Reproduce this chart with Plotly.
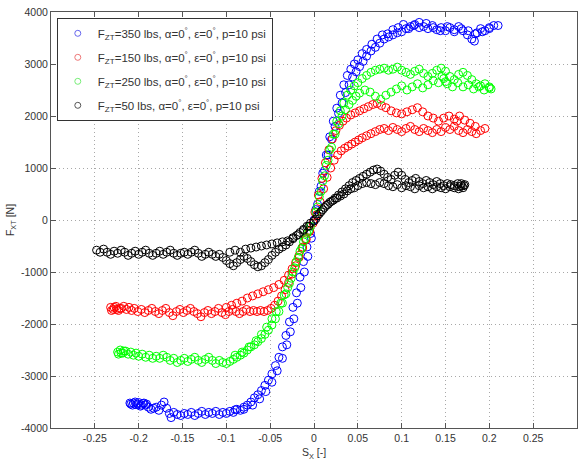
import plotly.graph_objects as go

# ---- data: (slip ratio S_X, longitudinal force F_XT [N]) ----
blue_350 = [
    (-0.210,-3520),(-0.209,-3540),(-0.207,-3560),(-0.206,-3520),(-0.204,-3500),(-0.203,-3550),
    (-0.201,-3540),(-0.200,-3510),(-0.198,-3580),(-0.197,-3560),(-0.195,-3530),(-0.194,-3520),
    (-0.192,-3560),(-0.191,-3540),(-0.189,-3600),(-0.186,-3640),(-0.183,-3620),(-0.180,-3600),
    (-0.177,-3660),(-0.174,-3560),(-0.171,-3500),(-0.168,-3620),(-0.165,-3720),(-0.163,-3800),
    (-0.160,-3700),(-0.156,-3740),(-0.152,-3760),(-0.148,-3720),(-0.144,-3740),(-0.140,-3700),
    (-0.136,-3760),(-0.132,-3720),(-0.128,-3680),(-0.124,-3740),(-0.120,-3700),(-0.116,-3720),
    (-0.112,-3680),(-0.108,-3740),(-0.104,-3700),(-0.100,-3720),(-0.096,-3680),(-0.092,-3700),
    (-0.088,-3640),(-0.084,-3660),(-0.080,-3600),(-0.076,-3560),(-0.072,-3500),(-0.068,-3420),
    (-0.064,-3360),(-0.060,-3280),(-0.056,-3180),(-0.052,-3080),(-0.048,-2960),(-0.044,-2800),
    (-0.040,-2640),(-0.036,-2440),(-0.032,-2220),(-0.028,-1960),(-0.024,-1680),(-0.020,-1400),
    (-0.016,-1100),(-0.012,-800),(-0.008,-520),(-0.004,-260),(0.000,0),
    (-0.090,-3650),(-0.080,-3640),(-0.070,-3560),(-0.062,-3440),(-0.055,-3300),(-0.048,-3120),
    (-0.042,-2900),(-0.036,-2660),(-0.031,-2400),(-0.027,-2150),(-0.023,-1900),(-0.019,-1600),
    (-0.015,-1300),(-0.011,-1000),(-0.007,-700),(-0.003,-350),
    (0.004,300),(0.008,650),(0.012,950),(0.016,1250),(0.020,1550),(0.024,1800),(0.028,2050),
    (0.032,2250),(0.036,2450),(0.040,2600),(0.044,2750),(0.048,2850),(0.052,2950),(0.056,3050),
    (0.060,3150),(0.065,3250),(0.070,3320),(0.075,3400),(0.080,3480),(0.085,3520),(0.090,3560),
    (0.095,3600),(0.100,3620),(0.105,3680),(0.110,3720),(0.115,3760),(0.120,3800),(0.125,3720),
    (0.130,3680),(0.135,3740),(0.140,3660),(0.145,3700),(0.150,3640),(0.155,3700),(0.160,3660),
    (0.165,3720),(0.170,3640),(0.175,3560),(0.180,3480),(0.183,3440),(0.186,3600),(0.190,3680),
    (0.195,3640),(0.200,3700),(0.205,3740),(0.210,3740),
    (0.002,200),(0.006,550),(0.010,900),(0.014,1250),(0.018,1600),(0.022,1900),(0.026,2150),
    (0.030,2400),(0.034,2600),(0.038,2780),(0.042,2900),(0.046,3000),(0.050,3080),(0.055,3200),
    (0.060,3280),(0.066,3380),(0.072,3480),(0.078,3560),(0.084,3580),(0.090,3660),(0.096,3700),
    (0.102,3760),(0.108,3680),(0.114,3740),(0.120,3700),(0.128,3780),(0.136,3700),(0.144,3640),
    (0.152,3720),(0.160,3620),(0.168,3680),(0.176,3640),(0.184,3580),(0.192,3620),(0.200,3680),
]

red_150 = [
    (-0.232,-1680),(-0.231,-1740),(-0.229,-1720),(-0.228,-1680),(-0.226,-1660),(-0.225,-1720),
    (-0.223,-1740),(-0.222,-1700),(-0.220,-1700),(-0.217,-1660),(-0.214,-1720),(-0.211,-1680),
    (-0.208,-1740),(-0.205,-1700),(-0.201,-1760),(-0.197,-1720),(-0.193,-1780),(-0.189,-1740),
    (-0.185,-1700),(-0.181,-1760),(-0.177,-1800),(-0.173,-1740),(-0.169,-1700),(-0.165,-1780),
    (-0.161,-1840),(-0.157,-1760),(-0.153,-1720),(-0.149,-1780),(-0.145,-1740),(-0.141,-1700),
    (-0.137,-1760),(-0.133,-1800),(-0.129,-1860),(-0.125,-1780),(-0.121,-1740),(-0.117,-1800),
    (-0.113,-1760),(-0.109,-1700),(-0.105,-1780),(-0.101,-1820),(-0.097,-1760),(-0.093,-1720),
    (-0.089,-1760),(-0.085,-1800),(-0.081,-1760),(-0.077,-1720),(-0.073,-1760),(-0.069,-1740),
    (-0.065,-1760),(-0.061,-1740),(-0.057,-1760),(-0.053,-1740),(-0.049,-1700),(-0.045,-1640),
    (-0.041,-1560),(-0.037,-1460),(-0.033,-1340),(-0.029,-1200),(-0.025,-1040),(-0.021,-880),
    (-0.017,-720),(-0.013,-540),(-0.009,-380),(-0.005,-220),(-0.001,-60),
    (-0.100,-1680),(-0.094,-1640),(-0.088,-1600),(-0.082,-1560),(-0.076,-1500),(-0.070,-1460),
    (-0.064,-1420),(-0.058,-1380),(-0.052,-1340),(-0.046,-1300),(-0.040,-1240),(-0.034,-1160),
    (-0.029,-1060),(-0.025,-940),(-0.021,-820),(-0.017,-680),(-0.013,-520),(-0.009,-360),
    (-0.005,-200),
    (0.003,100),(0.007,350),(0.011,600),(0.015,820),(0.019,1000),(0.023,1150),(0.027,1250),
    (0.031,1330),(0.035,1380),(0.039,1420),(0.043,1460),(0.047,1500),(0.051,1540),(0.055,1580),
    (0.060,1620),(0.065,1660),(0.070,1700),(0.075,1740),(0.080,1760),(0.085,1720),(0.090,1780),
    (0.095,1740),(0.100,1700),(0.105,1760),(0.110,1800),(0.115,1740),(0.120,1700),(0.125,1760),
    (0.130,1720),(0.135,1680),(0.140,1740),(0.145,1700),(0.150,1780),(0.155,1740),(0.160,1800),
    (0.165,1720),(0.170,1680),(0.175,1740),(0.180,1700),(0.185,1660),(0.190,1720),(0.195,1760),
    (0.001,150),(0.005,480),(0.009,800),(0.013,1100),(0.017,1350),(0.021,1560),(0.025,1720),
    (0.029,1820),(0.033,1900),(0.037,1960),(0.042,2020),(0.047,2060),(0.052,2100),(0.057,2140),
    (0.062,2180),(0.067,2220),(0.072,2240),(0.077,2200),(0.082,2160),(0.088,2100),(0.094,2060),
    (0.100,2040),(0.106,2080),(0.112,2120),(0.118,2160),(0.124,2080),(0.130,2000),(0.136,1960),
    (0.142,1900),(0.148,1960),(0.154,2000),(0.160,1940),(0.163,1900),(0.166,2000),(0.172,1920),
    (0.178,1860),(0.184,1800),
]

green_250 = [
    (-0.224,-2540),(-0.223,-2580),(-0.221,-2500),(-0.220,-2560),(-0.218,-2560),(-0.217,-2520),
    (-0.215,-2520),(-0.212,-2580),(-0.209,-2540),(-0.206,-2600),(-0.203,-2560),(-0.200,-2620),
    (-0.196,-2580),(-0.192,-2640),(-0.188,-2600),(-0.184,-2660),(-0.180,-2620),(-0.176,-2660),
    (-0.172,-2600),(-0.168,-2640),(-0.164,-2700),(-0.160,-2660),(-0.156,-2740),(-0.152,-2700),
    (-0.148,-2660),(-0.144,-2720),(-0.140,-2680),(-0.136,-2640),(-0.132,-2700),(-0.128,-2740),
    (-0.124,-2680),(-0.120,-2640),(-0.116,-2700),(-0.112,-2760),(-0.108,-2700),(-0.104,-2740),
    (-0.100,-2760),(-0.096,-2720),(-0.092,-2680),(-0.088,-2640),(-0.084,-2600),(-0.080,-2560),
    (-0.076,-2500),(-0.072,-2440),(-0.068,-2400),(-0.064,-2340),(-0.060,-2280),(-0.056,-2200),
    (-0.052,-2120),(-0.048,-2020),(-0.044,-1900),(-0.040,-1760),(-0.036,-1600),(-0.032,-1420),
    (-0.028,-1220),(-0.024,-1000),(-0.020,-800),(-0.016,-600),(-0.012,-420),(-0.008,-260),
    (-0.004,-120),
    (-0.090,-2600),(-0.082,-2540),(-0.074,-2440),(-0.066,-2320),(-0.060,-2200),(-0.054,-2060),
    (-0.048,-1900),(-0.043,-1760),(-0.038,-1600),(-0.034,-1440),(-0.030,-1300),(-0.026,-1120),
    (-0.022,-920),(-0.018,-720),(-0.014,-540),(-0.010,-360),(-0.006,-200),
    (0.002,150),(0.006,450),(0.010,750),(0.014,1050),(0.018,1350),(0.022,1650),(0.026,1900),
    (0.030,2100),(0.034,2250),(0.038,2400),(0.042,2500),(0.046,2580),(0.050,2640),(0.055,2720),
    (0.060,2780),(0.065,2840),(0.070,2880),(0.075,2900),(0.080,2920),(0.085,2880),(0.090,2900),
    (0.095,2940),(0.100,2880),(0.105,2840),(0.110,2800),(0.115,2860),(0.120,2900),(0.125,2820),
    (0.130,2760),(0.135,2820),(0.140,2880),(0.145,2920),(0.150,2860),(0.155,2760),(0.160,2700),
    (0.165,2800),(0.170,2840),(0.175,2780),(0.180,2700),(0.185,2620),(0.190,2580),(0.195,2620),
    (0.200,2560),
    (0.004,250),(0.008,550),(0.012,850),(0.016,1150),(0.020,1400),(0.024,1650),(0.028,1850),
    (0.032,2000),(0.036,2120),(0.040,2220),(0.044,2300),(0.048,2380),(0.052,2440),(0.058,2500),
    (0.064,2460),(0.070,2380),(0.076,2320),(0.082,2400),(0.088,2460),(0.094,2520),(0.100,2580),
    (0.106,2500),(0.112,2560),(0.118,2620),(0.124,2540),(0.130,2600),(0.136,2680),(0.142,2640),
    (0.146,2760),(0.148,2720),(0.150,2660),(0.152,2620),(0.158,2560),(0.164,2640),(0.170,2560),
    (0.176,2600),(0.182,2520),(0.188,2560),(0.194,2500),(0.200,2540),(0.202,2520),
]

black_50 = [
    (-0.248,-580),(-0.244,-620),(-0.240,-560),(-0.236,-620),(-0.232,-660),(-0.228,-600),
    (-0.224,-640),(-0.220,-580),(-0.216,-620),(-0.212,-680),(-0.208,-640),(-0.204,-600),
    (-0.200,-660),(-0.196,-620),(-0.192,-580),(-0.188,-640),(-0.184,-680),(-0.180,-640),
    (-0.176,-600),(-0.172,-660),(-0.168,-620),(-0.164,-580),(-0.160,-640),(-0.156,-680),
    (-0.152,-640),(-0.148,-620),(-0.144,-660),(-0.140,-620),(-0.136,-580),(-0.132,-640),
    (-0.128,-700),(-0.124,-660),(-0.120,-620),(-0.116,-660),(-0.112,-700),(-0.108,-660),
    (-0.104,-720),(-0.100,-780),(-0.096,-840),(-0.092,-880),(-0.088,-820),(-0.084,-760),
    (-0.080,-700),(-0.076,-740),(-0.072,-800),(-0.068,-860),(-0.064,-900),(-0.060,-880),
    (-0.056,-820),(-0.052,-760),(-0.048,-680),(-0.044,-620),(-0.040,-560),(-0.036,-520),
    (-0.032,-480),(-0.028,-420),(-0.024,-360),(-0.020,-300),(-0.016,-240),(-0.012,-180),
    (-0.008,-120),(-0.004,-60),
    (-0.096,-620),(-0.090,-580),(-0.084,-620),(-0.078,-560),(-0.072,-540),(-0.066,-520),
    (-0.060,-500),(-0.054,-480),(-0.048,-460),(-0.042,-440),(-0.036,-420),(-0.030,-400),
    (-0.024,-340),(-0.018,-280),(-0.012,-200),(-0.006,-120),(0.000,-20),
    (0.004,80),(0.008,160),(0.012,240),(0.016,300),(0.020,360),(0.024,420),(0.028,480),
    (0.032,540),(0.036,600),(0.040,660),(0.044,720),(0.048,760),(0.052,800),(0.056,840),
    (0.060,880),(0.064,920),(0.068,960),(0.072,980),(0.076,940),(0.080,880),(0.084,820),
    (0.088,780),(0.092,860),(0.096,920),(0.100,860),(0.104,780),(0.108,720),(0.112,760),
    (0.116,800),(0.120,740),(0.124,700),(0.128,760),(0.132,720),(0.136,680),(0.140,740),
    (0.144,700),(0.148,660),(0.152,700),(0.156,680),(0.160,660),(0.164,700),(0.168,660),
    (0.172,680),
    (0.002,20),(0.006,120),(0.010,200),(0.014,280),(0.018,340),(0.022,380),(0.026,420),
    (0.030,460),(0.034,500),(0.038,560),(0.042,600),(0.046,620),(0.050,660),(0.055,700),
    (0.060,720),(0.065,700),(0.070,680),(0.075,720),(0.080,700),(0.085,660),(0.090,640),
    (0.095,680),(0.100,620),(0.105,660),(0.110,640),(0.115,600),(0.120,660),(0.125,620),
    (0.130,640),(0.135,600),(0.140,640),(0.145,620),(0.150,600),(0.155,640),(0.160,620),
    (0.165,600),(0.166,640),(0.168,700),(0.170,620),(0.171,660),
]

series_names = [
    "F<sub>ZT</sub>=350 lbs, α=0<sup>°</sup>, ε=0<sup>°</sup>, p=10 psi",
    "F<sub>ZT</sub>=150 lbs, α=0<sup>°</sup>, ε=0<sup>°</sup>, p=10 psi",
    "F<sub>ZT</sub>=250 lbs, α=0<sup>°</sup>, ε=0<sup>°</sup>, p=10 psi",
    "F<sub>ZT</sub>=50 lbs, α=0<sup>°</sup>, ε=0<sup>°</sup>, p=10 psi",
]
series_colors = ["#0000ff", "#ff0000", "#00ff00", "#000000"]
legend_colors = ["#6666ee", "#ee7777", "#77ee77", "#555555"]

x_ticks = [-0.25, -0.2, -0.15, -0.1, -0.05, 0, 0.05, 0.1, 0.15, 0.2, 0.25]
x_ticklabels = ["-0.25", "-0.2", "-0.15", "-0.1", "-0.05", "0", "0.05", "0.1", "0.15", "0.2", "0.25"]
y_ticks = [-4000, -3000, -2000, -1000, 0, 1000, 2000, 3000, 4000]
y_ticklabels = ["-4000", "-3000", "-2000", "-1000", "0", "1000", "2000", "3000", "4000"]

fig = go.Figure()
for i, (data, name, color) in enumerate(zip([blue_350, red_150, green_250, black_50],
                                             series_names, series_colors)):
    fig.add_trace(go.Scatter(
        x=[p[0] for p in data], y=[p[1] for p in data],
        mode="markers", name=name, showlegend=False, legendgroup=f"g{i}",
        marker=dict(symbol="circle-open", size=8, color=color, line=dict(width=1, color=color)),
    ))
# legend-only entries (small, thin markers like the original legend)
for i, (name, lc) in enumerate(zip(series_names, legend_colors)):
    fig.add_trace(go.Scatter(
        x=[None], y=[None], mode="markers", name=name, legendgroup=f"g{i}",
        marker=dict(symbol="circle-open", size=6, color=lc, line=dict(width=1, color=lc)),
    ))

axis_common = dict(
    showline=True, linecolor="#555555", linewidth=1, mirror="allticks",
    ticks="inside", ticklen=5, tickcolor="#555555",
    showgrid=True, gridcolor="#a8a8a8", griddash="1px,3px", gridwidth=1,
    zeroline=False, tickfont=dict(family="Liberation Sans, Arial", size=10.5, color="#333333"),
)

fig.update_layout(
    width=584, height=466,
    margin=dict(l=51, r=6, t=9, b=38),
    paper_bgcolor="white", plot_bgcolor="white",
    font=dict(family="Liberation Sans, Arial", size=10.5, color="#333333"),
    xaxis=dict(range=[-0.3, 0.3], tickvals=x_ticks, ticktext=x_ticklabels,
               title=dict(text="S<sub>X</sub> [-]", standoff=6, font=dict(size=10.5)), **axis_common),
    yaxis=dict(range=[-4000, 4000], tickvals=y_ticks, ticktext=y_ticklabels,
               title=dict(text="F<sub>XT</sub> [N]", standoff=4, font=dict(size=10.5)), **axis_common),
    legend=dict(x=0.011, y=0.986, xanchor="left", yanchor="top",
                bgcolor="white", bordercolor="#333333", borderwidth=1,
                font=dict(size=11.5, color="#333333"), itemsizing="trace",
                tracegroupgap=5, traceorder="grouped"),
    showlegend=True,
)

fig.write_html("out.html")
